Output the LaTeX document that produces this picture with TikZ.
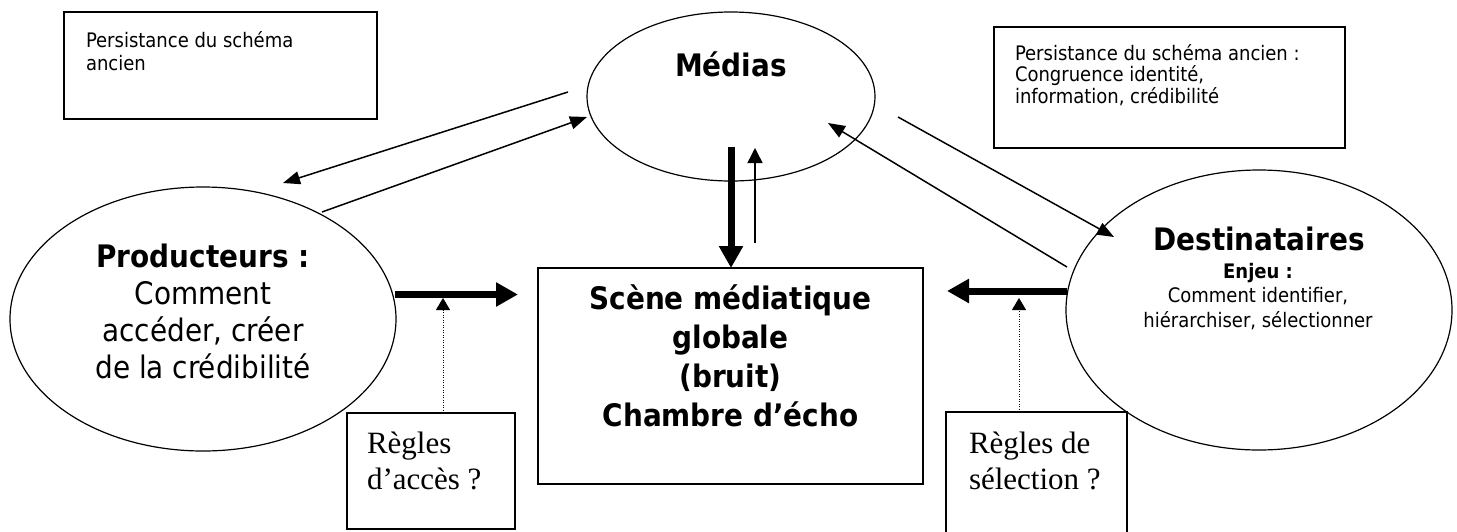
\documentclass[tikz,border=0pt]{standalone}
\usepackage{fontspec}
\setmainfont{DejaVu Sans Condensed}
\newfontfamily\timesf{Liberation Serif}
\usetikzlibrary{arrows.meta,shapes.geometric}
\begin{document}
\begin{tikzpicture}[x=1pt,y=-1pt,
  every node/.style={inner sep=0pt, outer sep=0pt},
  ell/.style={draw, ellipse, line width=1.2pt},
  box/.style={draw, rectangle, line width=1.4pt},
  small/.style={font=\fontsize{20}{23}\selectfont, align=left},
  smalltr/.style={font=\fontsize{20}{21.5}\selectfont, align=left},
  sub/.style={font=\fontsize{20}{24.5}\selectfont, align=center},
  big/.style={font=\fontsize{31}{37}\selectfont, align=center},
  bigb/.style={font=\bfseries\fontsize{31}{39}\selectfont, align=center},
  ser/.style={font=\timesf\fontsize{31}{36}\selectfont, align=left},
  thinarrow/.style={line width=1.5pt, -{Triangle[length=17pt,width=13pt]}},
  thinup/.style={line width=1.5pt, -{Triangle[length=15pt,width=15pt]}},
  thickarrow/.style={line width=7pt, -{Triangle[length=22pt,width=23pt]}},
  dotarrow/.style={line width=1pt, dash pattern=on 1pt off 1.5pt, -{Triangle[length=12pt,width=14pt]}}
]
\useasboundingbox (0,0) rectangle (1457,531);

% ellipses
\node[ell, minimum width=288pt, minimum height=169pt] (med) at (731,96.5) {};
\node[ell, minimum width=386pt, minimum height=264pt] (prod) at (203,319) {};
\node[ell, minimum width=386pt, minimum height=280pt] (dest) at (1259,310) {};

% boxes
\node[box, minimum width=313pt, minimum height=107pt] (tl) at (220.5,65.5) {};
\node[box, minimum width=351pt, minimum height=121pt] (tr) at (1169.5,87.5) {};
\node[box, line width=2pt, minimum width=385pt, minimum height=216pt] (scene) at (730.5,376) {};
\node[box, minimum width=168pt, minimum height=116pt] (ra) at (431,471) {};
\node[box, minimum width=181pt, minimum height=130pt] (rs) at (1036.5,477) {};

% texts (multi-line nodes: base anchor = last baseline)
\node[small, anchor=base west] (tltext) at (86,70) {Persistance du schéma\\ancien};
\node[smalltr, anchor=base west] (trtext) at (1015,103) {Persistance du schéma ancien :\\Congruence identité,\\information, crédibilité};
\node[bigb, anchor=base] (medtext) at (731,76) {Médias};
\node[big, anchor=base] (prodtext) at (203,378) {\textbf{Producteurs :}\\Comment\\accéder, créer\\de la crédibilité};
\node[bigb, anchor=base] (destname) at (1259,250) {Destinataires};
\node[sub, anchor=base] (destsub) at (1258,327) {\textbf{Enjeu :}\\Comment identifier,\\hiérarchiser, sélectionner};
\node[bigb, anchor=base] (scenetext) at (730.5,426) {Scène médiatique\\globale\\(bruit)\\Chambre d’écho};
\node[ser, anchor=base west] (ratext) at (367,489) {Règles\\d’accès ?};
\node[ser, anchor=base west] (rstext) at (969,489) {Règles de\\sélection ?};

% connector end points
\coordinate (mp1) at (568,92);
\coordinate (mp2) at (283,183);
\coordinate (pm1) at (322,212);
\coordinate (pm2) at (587,117);
\coordinate (md1) at (898,117);
\coordinate (md2) at (1114,237);
\coordinate (dm1) at (1067,267);
\coordinate (dm2) at (828,123);
\coordinate (ms1) at (731,147);
\coordinate (sm1) at (755,243);
\coordinate (sm2) at (755,148);
\coordinate (ps1) at (395,294.5);
\coordinate (ps2) at (518,294.5);
\coordinate (ds1) at (1067,291);
\coordinate (ds2) at (947,291);
\coordinate (ra1) at (443,298);
\coordinate (rs1) at (1019,298);

% connectors
\draw[thinarrow] (mp1) -- (mp2);
\draw[thinarrow] (pm1) -- (pm2);
\draw[thinarrow] (md1) -- (md2);
\draw[thinarrow] (dm1) -- (dm2);
\draw[thickarrow] (ms1) -- (ms1 |- scene.north);
\draw[thinup] (sm1) -- (sm2);
\draw[thickarrow] (ps1) -- (ps2);
\draw[thickarrow] (ds1) -- (ds2);
\draw[dotarrow] (ra1 |- ra.north) -- (ra1);
\draw[dotarrow] (rs1 |- rs.north) -- (rs1);
\end{tikzpicture}
\end{document}
